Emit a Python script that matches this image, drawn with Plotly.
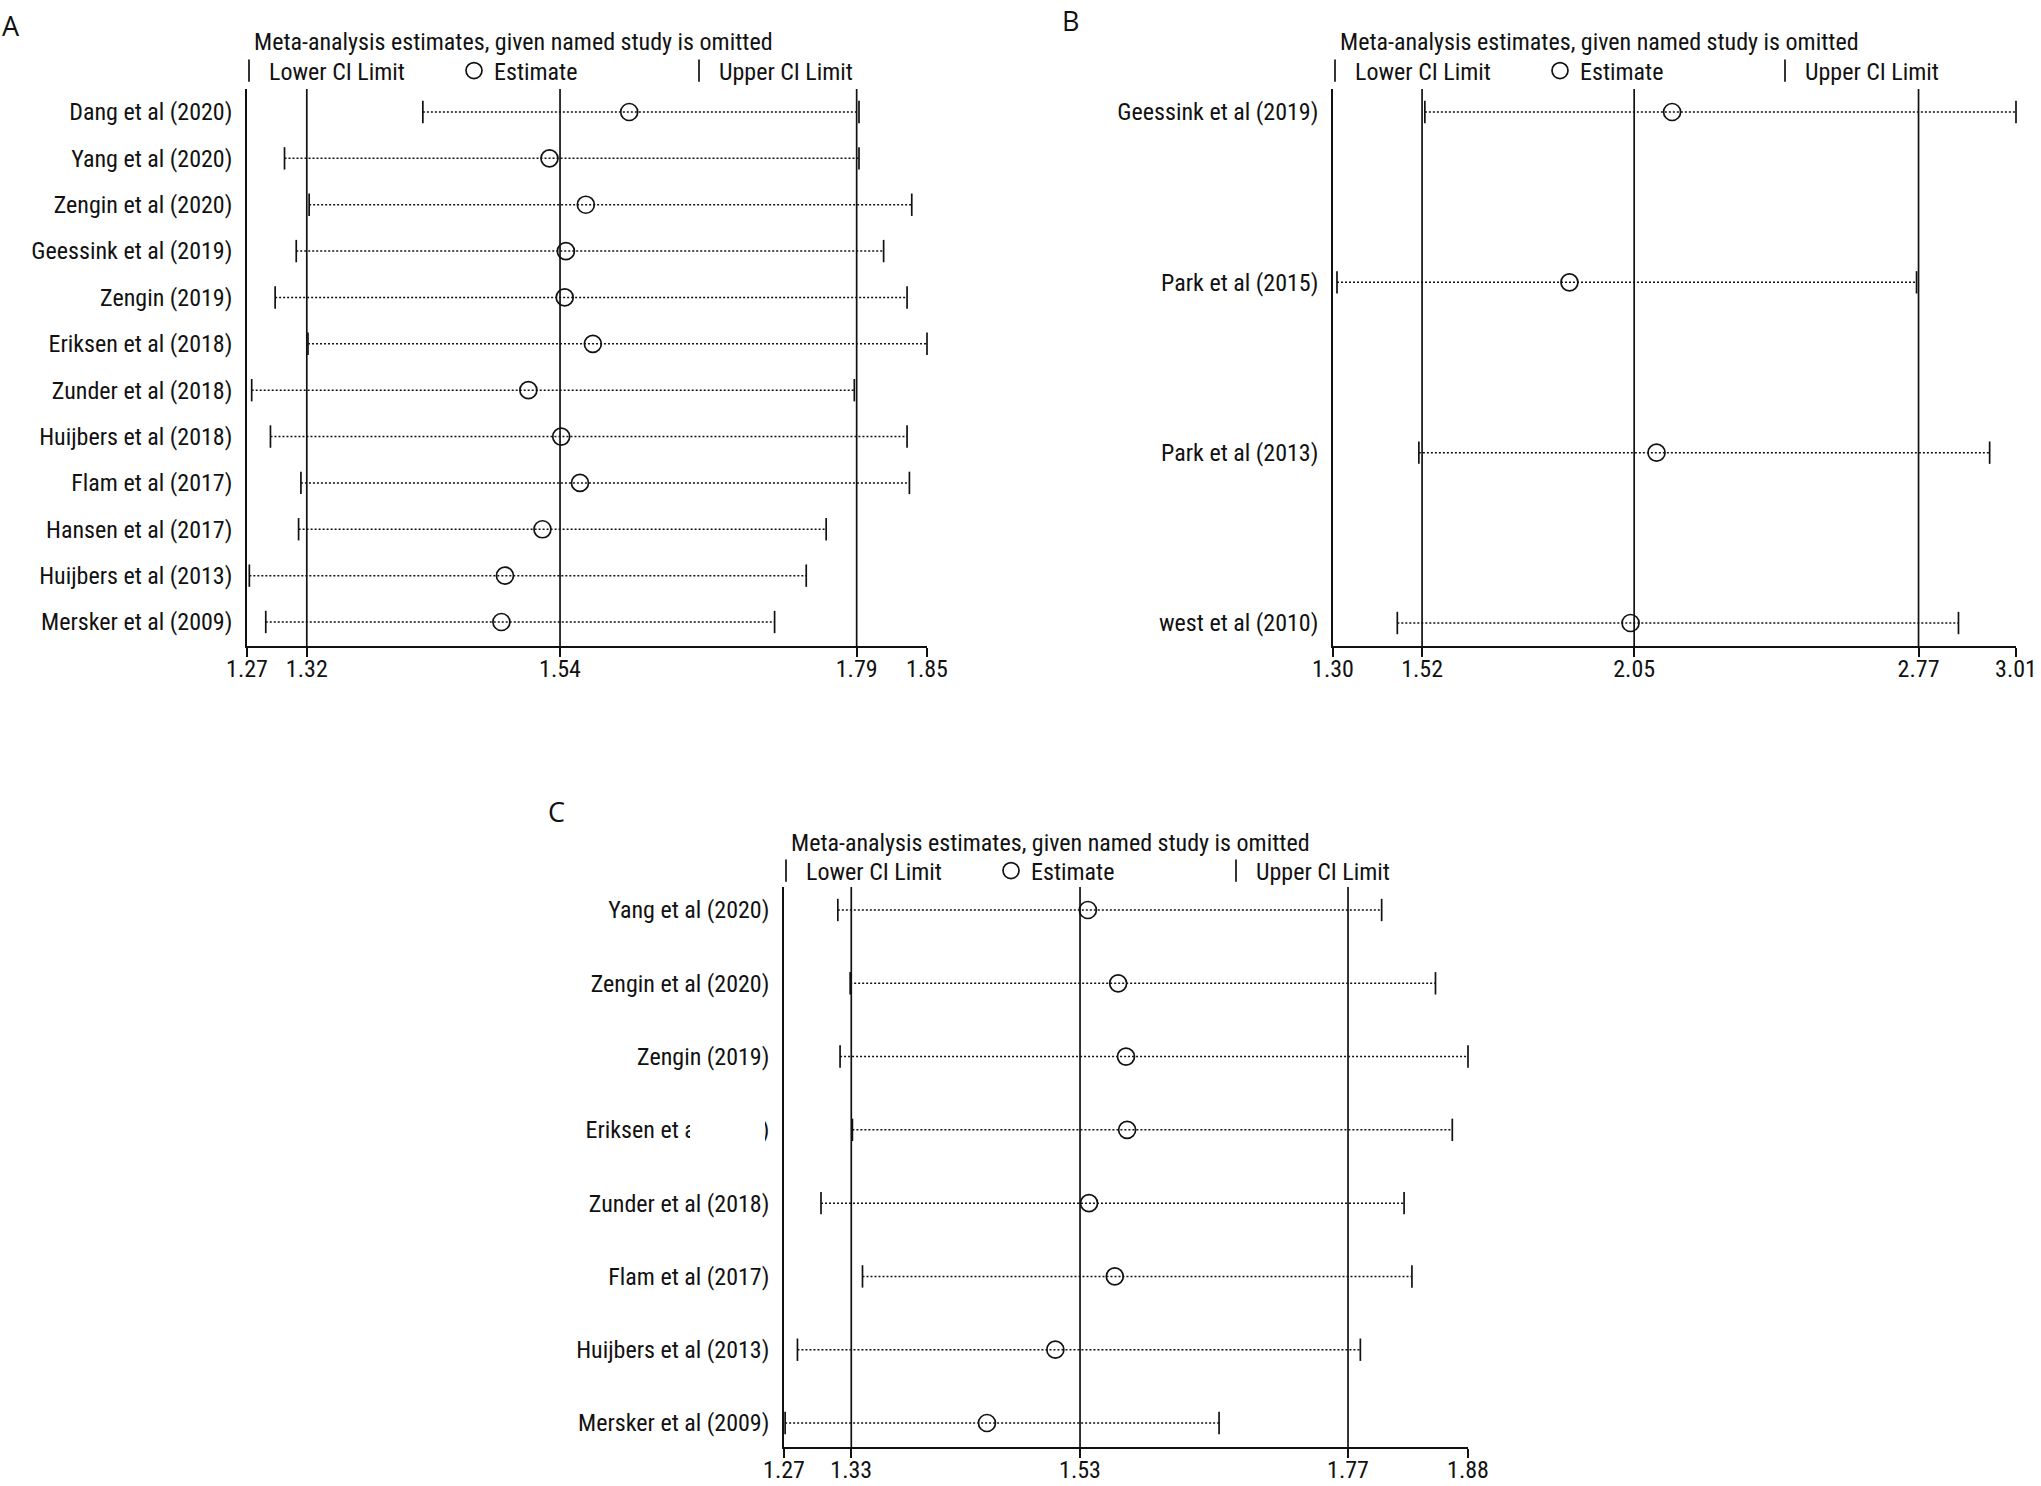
import plotly.graph_objects as go

# ---------------- data ----------------
A_studies = ["Dang et al (2020)", "Yang et al (2020)", "Zengin et al (2020)", "Geessink et al (2019)",
             "Zengin (2019)", "Eriksen et al (2018)", "Zunder et al (2018)", "Huijbers et al (2018)",
             "Flam et al (2017)", "Hansen et al (2017)", "Huijbers et al (2013)", "Mersker et al (2009)"]
A_lower = [1.420, 1.302, 1.323, 1.312, 1.294, 1.322, 1.274, 1.290, 1.316, 1.314, 1.272, 1.286]
A_est = [1.596, 1.528, 1.559, 1.542, 1.541, 1.565, 1.510, 1.538, 1.554, 1.522, 1.490, 1.487]
A_upper = [1.792, 1.792, 1.837, 1.813, 1.833, 1.850, 1.788, 1.833, 1.835, 1.764, 1.747, 1.720]
A_overall = [1.321, 1.537, 1.790]
A_range = [1.27, 1.85]

B_studies = ["Geessink et al (2019)", "Park et al (2015)", "Park et al (2013)", "west et al (2010)"]
B_lower = [1.530, 1.310, 1.515, 1.461]
B_est = [2.149, 1.892, 2.110, 2.045]
B_upper = [3.010, 2.761, 2.944, 2.866]
B_overall = [1.523, 2.054, 2.766]
B_range = [1.30, 3.01]

C_studies = ["Yang et al (2020)", "Zengin et al (2020)", "Zengin (2019)", "Eriksen et al (2018)",
             "Zunder et al (2018)", "Flam et al (2017)", "Huijbers et al (2013)", "Mersker et al (2009)"]
C_lower = [1.318, 1.329, 1.320, 1.331, 1.303, 1.340, 1.282, 1.271]
C_est = [1.541, 1.568, 1.575, 1.576, 1.542, 1.565, 1.512, 1.451]
C_upper = [1.803, 1.851, 1.880, 1.866, 1.823, 1.830, 1.784, 1.658]
C_overall = [1.330, 1.534, 1.773]
C_range = [1.27, 1.88]

TITLE = "Meta-analysis estimates, given named study is omitted"
LEG_NAMES = ["Lower CI Limit", "Estimate", "Upper CI Limit"]

# ---------------- layout geometry (pixels) ----------------
W, H = 2041, 1486
FONT = "Roboto Condensed, Liberation Sans, Arial, sans-serif"
FS = 24
INK = "#111111"

panels = [
    dict(key="A", studies=A_studies, lo=A_lower, est=A_est, up=A_upper, ov=A_overall, rng=A_range,
         x0=247, x1=927, top=89, first=112, last=622, axis=646, title_y=42, leg_y=71,
         letter=(0, 26), ax="", legend="legend"),
    dict(key="B", studies=B_studies, lo=B_lower, est=B_est, up=B_upper, ov=B_overall, rng=B_range,
         x0=1333, x1=2016, top=89, first=112, last=623, axis=646, title_y=42, leg_y=71,
         letter=(1060, 20), ax="2", legend="legend2"),
    dict(key="C", studies=C_studies, lo=C_lower, est=C_est, up=C_upper, ov=C_overall, rng=C_range,
         x0=784, x1=1468, top=887, first=910, last=1423, axis=1447, title_y=843, leg_y=871,
         letter=(546, 812), ax="3", legend="legend3"),
]


def px(x):
    return x / W


def py(y):
    return 1 - y / H


fig = go.Figure()
shapes = []
annotations = []
layout = {}

for p in panels:
    n = len(p["studies"])
    rows = list(range(n))
    xa = "x" + p["ax"]
    ya = "y" + p["ax"]
    sp = (p["last"] - p["first"]) / (n - 1)
    r_top = -(p["first"] - p["top"]) / sp
    r_bot = (n - 1) + (p["axis"] - p["last"]) / sp

    # dotted CI lines
    lx, ly = [], []
    for i in rows:
        lx += [p["lo"][i], p["up"][i], None]
        ly += [i, i, None]
    fig.add_trace(go.Scatter(x=lx, y=ly, mode="lines", xaxis=xa, yaxis=ya,
                             line=dict(color="#111111", width=1.5, dash="2px,2px"),
                             showlegend=False, hoverinfo="skip", cliponaxis=False))
    # lower caps
    fig.add_trace(go.Scatter(x=p["lo"], y=rows, mode="markers", xaxis=xa, yaxis=ya,
                             name=LEG_NAMES[0], legend=p["legend"], cliponaxis=False,
                             marker=dict(symbol="line-ns-open", size=16, color=INK,
                                         line=dict(width=1.7, color=INK))))
    # estimates
    fig.add_trace(go.Scatter(x=p["est"], y=rows, mode="markers", xaxis=xa, yaxis=ya,
                             name=LEG_NAMES[1], legend=p["legend"], cliponaxis=False,
                             marker=dict(symbol="circle-open", size=17, color=INK,
                                         line=dict(width=1.7, color=INK))))
    # upper caps
    fig.add_trace(go.Scatter(x=p["up"], y=rows, mode="markers", xaxis=xa, yaxis=ya,
                             name=LEG_NAMES[2], legend=p["legend"], cliponaxis=False,
                             marker=dict(symbol="line-ns-open", size=16, color=INK,
                                         line=dict(width=1.7, color=INK))))

    tickvals = [p["rng"][0]] + p["ov"] + [p["rng"][1]]
    ticktext = ["%.2f" % v for v in tickvals]
    layout["xaxis" + p["ax"]] = dict(
        domain=[px(p["x0"]), px(p["x1"])], anchor=ya, range=p["rng"], automargin=False,
        showgrid=False, zeroline=False, showline=True, linecolor=INK, linewidth=1.7,
        ticks="outside", ticklen=9, tickwidth=1.7, tickcolor=INK, ticklabelstandoff=-9,
        tickvals=tickvals, ticktext=ticktext,
        tickfont=dict(family=FONT, size=FS, color=INK), fixedrange=True)
    layout["yaxis" + p["ax"]] = dict(
        domain=[py(p["axis"]), py(p["top"])], anchor=xa, range=[r_bot, r_top], automargin=False,
        showgrid=False, zeroline=False, showline=True, linecolor=INK, linewidth=1.7,
        ticks="", tickvals=rows, ticktext=p["studies"], ticklabelstandoff=8,
        tickfont=dict(family=FONT, size=FS, color=INK), fixedrange=True)

    # overall estimate / CI reference lines
    for v in p["ov"]:
        shapes.append(dict(type="line", xref=xa, yref=ya + " domain", x0=v, x1=v, y0=0, y1=1,
                           line=dict(color=INK, width=1.7), layer="below"))

    # title
    annotations.append(dict(text=TITLE, xref="paper", yref="paper", x=px(p["x0"] + 5),
                            y=py(p["title_y"]), xanchor="left", yanchor="middle", showarrow=False,
                            font=dict(family=FONT, size=FS, color=INK)))
    # panel letter
    annotations.append(dict(text=p["key"], xref="paper", yref="paper", x=px(p["letter"][0]),
                            y=py(p["letter"][1]), xanchor="left", yanchor="middle", showarrow=False,
                            font=dict(family="Open Sans, DejaVu Sans", size=27, color=INK)))
    # legend
    layout[p["legend"]] = dict(
        orientation="h", x=px(p["x0"] - 18), y=py(p["leg_y"]), xanchor="left", yanchor="middle",
        entrywidth=180, entrywidthmode="pixels", bgcolor="rgba(0,0,0,0)",
        font=dict(family=FONT, size=FS, color=INK), itemclick=False, itemdoubleclick=False)

# partially hidden label in panel C (white patch over part of the text, as in the source)
c_eriksen_y = 910 + 3 * (1423 - 910) / 7
shapes.append(dict(type="rect", xref="paper", yref="paper", x0=px(690), x1=px(765),
                   y0=py(c_eriksen_y + 18), y1=py(c_eriksen_y - 18), fillcolor="white",
                   line=dict(width=0), layer="above"))

fig.update_layout(
    width=W, height=H, margin=dict(l=0, r=0, t=0, b=0, autoexpand=False),
    paper_bgcolor="white", plot_bgcolor="white",
    shapes=shapes, annotations=annotations, showlegend=True,
    font=dict(family=FONT, color=INK), **layout)

fig.write_html("out.html", config={"displayModeBar": False},
               post_script="document.body.style.margin='0';document.body.style.overflow='hidden';")
